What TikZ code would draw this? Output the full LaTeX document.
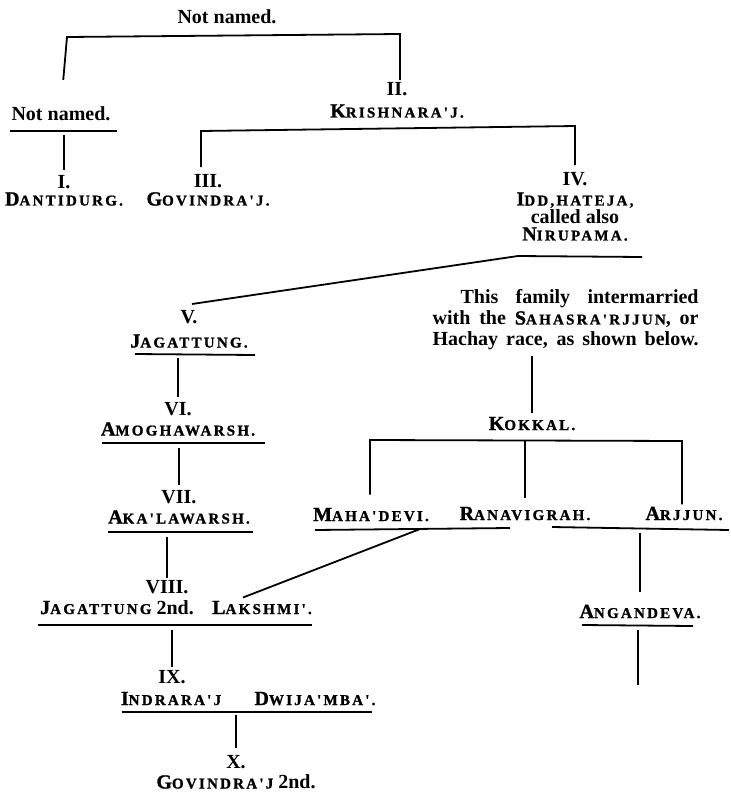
\documentclass[tikz,border=0pt]{standalone}
\usepackage{fontspec}
\setmainfont{Liberation Serif}
\newfontfamily\capfont[LetterSpace=15,BoldFeatures={FakeBold=1.2}]{Liberation Serif}
\newcommand{\nm}[2]{{\capfont\bfseries #1\fontsize{7.5}{9}\selectfont #2}}
\usetikzlibrary{calc}

\begin{document}
\begin{tikzpicture}[x=0.5pt,y=0.5pt,yscale=-1,
    txt/.style={inner sep=0pt, font=\bfseries\fontsize{10}{10}\selectfont},
    reign/.style={txt, align=center, anchor=north},
    bar/.style={line width=0.9pt}]
    \useasboundingbox (0,0) rectangle (730,793);

    % Text Node
    \node [txt, anchor=base] (root) at (227,23) {Not named.};
    \node [txt, anchor=base] (nn) at (61,120) {Not named.};
    \node [reign] (k1) at (64,175) {I.\\[-1.5pt]\nm{D}{ANTIDURG.}};
    \node [reign] (k2) at (397,82) {II.\\[1pt]\nm{K}{RISHNARA'J.}};
    \node [reign] (k3) at (208,174) {III.\\[-1pt]\nm{G}{OVINDRA'J.}};
    \node [reign] (k4) at (575,172) {IV.\\\nm{I}{DD,HATEJA,}\\[-1pt]called also\\[-1.5pt]\nm{N}{IRUPAMA.}};
    \node [reign] (k5) at (189,310) {V.\\[2pt]\nm{J}{AGATTUNG.}};
    \node [reign] (k6) at (178,402) {VI.\\\nm{A}{MOGHAWARSH.}};
    \node [reign] (k7) at (179,490) {VII.\\\nm{A}{KA'LAWARSH.}};
    \node [reign] (k8) at (167,580) {VIII.};
    \node [txt, anchor=base] (jag) at (117,614) {\nm{J}{AGATTUNG} 2nd.};
    \node [txt, anchor=base] (lak) at (262,614) {\nm{L}{AKSHMI'.}};
    \node [reign] (k9) at (172,670) {IX.};
    \node [txt, anchor=base] (ind) at (171,705) {\nm{I}{NDRARA'J}};
    \node [txt, anchor=base] (dwi) at (315,705) {\nm{D}{WIJA'MBA'.}};
    \node [reign] (k10) at (236,755) {X.\\\nm{G}{OVINDRA'J} 2nd.};
    % Text Node
    \node [txt, anchor=north east, text width=133pt, align=justify, font=\bfseries\fontsize{10}{10.5}\selectfont] (note) at (699,289)
        {\parfillskip=0pt\parindent=14pt\indent This family intermarried\linebreak with the \nm{S}{AHASRA'RJJUN}, or\linebreak Hachay race, as shown below.\par};
    \node [txt, anchor=base] (kok) at (532,430) {\nm{K}{OKKAL.}};
    \node [txt, anchor=base] (maha) at (371,521) {\nm{M}{AHA'DEVI.}};
    \node [txt, anchor=base] (rana) at (525,520) {\nm{R}{ANAVIGRAH.}};
    \node [txt, anchor=base] (arj) at (684,520) {\nm{A}{RJJUN.}};
    \node [txt, anchor=base] (ang) at (640,618) {\nm{A}{NGANDEVA.}};

    %Straight Lines
    \coordinate (t1) at (67,37);
    \coordinate (t2) at (400,34);
    \draw [bar, shorten <=13pt, shorten >=1pt] (nn.north) -- (t1) -- (t2) -- (t2 |- k2.north);
    \coordinate (u1a) at (10,131);
    \coordinate (u1b) at (117,131);
    \draw [bar] (u1a) -- (u1b);
    \draw [bar, shorten <=2pt, shorten >=2.5pt] (k1.north |- u1a) -- (k1.north);
    %Straight Lines
    \coordinate (t3) at (201,131);
    \coordinate (t4) at (575,126);
    \draw [bar, shorten <=3.5pt, shorten >=3.5pt] (t3 |- k3.north) -- (t3) -- (t4) -- (t4 |- k4.north);
    \coordinate (u4a) at (518,256);
    \coordinate (u4b) at (642,257);
    \draw [bar] (u4b) -- (u4a) -- ($(k5.north)+(3,-6)$);
    %Straight Lines
    \coordinate (u5a) at (135,354);
    \coordinate (u5b) at (255,355);
    \draw [bar] (u5a) -- (u5b);
    \draw [bar, shorten <=2pt, shorten >=2.5pt] (k6.north |- u5a) -- (k6.north);
    \coordinate (u6a) at (102,443);
    \coordinate (u6b) at (265,443);
    \draw [bar] (u6a) -- (u6b);
    \draw [bar, shorten <=2.5pt, shorten >=2.5pt] (k7.north |- u6a) -- (k7.north);
    \coordinate (u7a) at (108,532);
    \coordinate (u7b) at (253,532);
    \draw [bar] (u7a) -- (u7b);
    \draw [bar, shorten <=2.5pt, shorten >=1pt] (k8.north |- u7a) -- (k8.north);
    \coordinate (u8a) at (38,625);
    \coordinate (u8b) at (312,625);
    \draw [bar] (u8a) -- (u8b);
    \draw [bar, shorten <=2.5pt, shorten >=1.5pt] (k9.north |- u8a) -- (k9.north);
    \coordinate (u9a) at (122,712);
    \coordinate (u9b) at (372,712);
    \draw [bar] (u9a) -- (u9b);
    \draw [bar, shorten <=1.5pt, shorten >=3.5pt] (k10.north |- u9a) -- (k10.north);
    %Straight Lines
    \draw [bar, shorten <=3pt, shorten >=2pt] (kok.north |- note.south) -- (kok.north);
    \coordinate (t5) at (370,440);
    \coordinate (t6) at (682,441);
    \draw [bar, shorten <=6.5pt, shorten >=1pt] (t5 |- maha.north) -- (t5) -- (t6) -- (t6 |- arj.north);
    \draw [bar, shorten >=4.5pt] (rana.north |- t5) -- (rana.north);
    \coordinate (u10a) at (315,530);
    \coordinate (u10b) at (510,528);
    \draw [bar] (u10a) -- (u10b);
    \draw [bar] ($(u10a)!0.54!(u10b)$) -- ($(lak.north)+(-19,-3)$);
    %Straight Lines
    \coordinate (u11a) at (552,527);
    \coordinate (u11b) at (729,530);
    \draw [bar] (u11a) -- (u11b);
    \draw [bar, shorten <=3pt, shorten >=6pt] (ang.north |- u11a) -- (ang.north);
    \coordinate (u12a) at (582,625);
    \coordinate (u12b) at (693,626);
    \coordinate (ae) at (638,685);
    \draw [bar] (u12a) -- (u12b);
    \draw [bar, shorten <=2.5pt] (ae |- u12a) -- (ae);
\end{tikzpicture}
\end{document}
